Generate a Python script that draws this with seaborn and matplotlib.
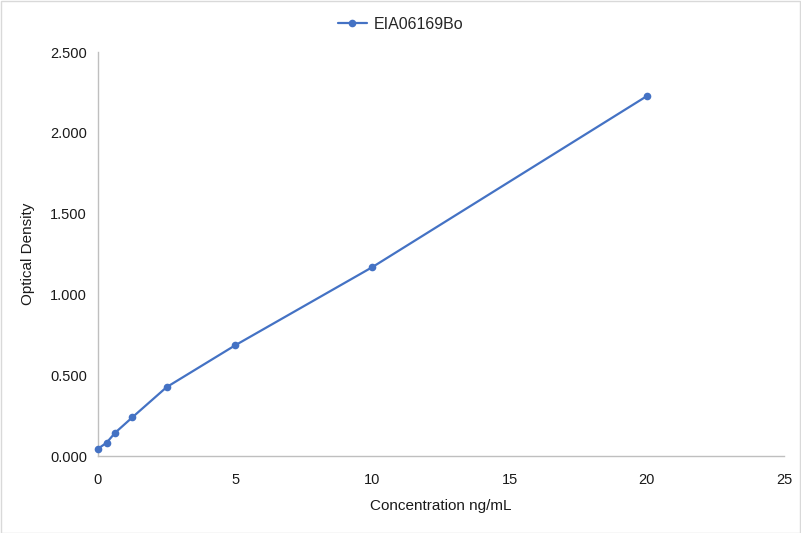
import numpy as np
import pandas as pd
import matplotlib
matplotlib.use('Agg')
import matplotlib.pyplot as plt
import seaborn as sns
from matplotlib.patches import Rectangle

# standard curve readings
concentration = [0, 0.3125, 0.625, 1.25, 2.5, 5, 10, 20]
optical_density = [0.045, 0.082, 0.144, 0.239, 0.426, 0.685, 1.169, 2.227]
series_name = 'EIA06169Bo'

df = pd.DataFrame({'conc': concentration, 'od': optical_density, 'series': series_name})

sns.set_style('white')
plt.rcParams['font.family'] = ['Liberation Sans', 'DejaVu Sans']

fig = plt.figure(figsize=(8.01, 5.33), dpi=100)
ax = fig.add_axes([98 / 801, 77 / 533, 686 / 801, 404 / 533])

sns.lineplot(data=df, x='conc', y='od', hue='series', palette=['#4472C4'],
             marker='o', markersize=5.5, markeredgewidth=0, linewidth=1.6,
             clip_on=False, zorder=5, ax=ax)

ax.set_xlim(0, 25)
ax.set_ylim(0, 2.5)
ax.set_xticks([0, 5, 10, 15, 20, 25])
ax.set_yticks(np.arange(0, 2.51, 0.5))
ax.set_yticklabels([f'{v:.3f}' for v in np.arange(0, 2.51, 0.5)])
ax.tick_params(axis='both', length=0, labelsize=10.5, labelcolor='#1a1a1a')
ax.tick_params(axis='x', pad=12)
ax.tick_params(axis='y', pad=8)

for side in ['top', 'right']:
    ax.spines[side].set_visible(False)
for side in ['left', 'bottom']:
    ax.spines[side].set_color('#bfbfbf')
    ax.spines[side].set_linewidth(1)

ax.set_xlabel('Concentration ng/mL', fontsize=11, color='#1a1a1a', labelpad=9)
ax.set_ylabel('Optical Density', fontsize=11, color='#1a1a1a', labelpad=11)

handles, labels = ax.get_legend_handles_labels()
ax.get_legend().remove()
fig.legend(handles, labels, loc='upper center', bbox_to_anchor=(0.5, 0.996),
           frameon=False, fontsize=11.5, handlelength=1.85, handletextpad=0.4,
           borderaxespad=0.5)

# light chart border
fig.patches.append(Rectangle((0.5 / 801, 0.5 / 533), 799 / 801, 532 / 533,
                             transform=fig.transFigure, fill=False,
                             edgecolor='#d9d9d9', linewidth=1))

fig.savefig('out.png', dpi=100)
